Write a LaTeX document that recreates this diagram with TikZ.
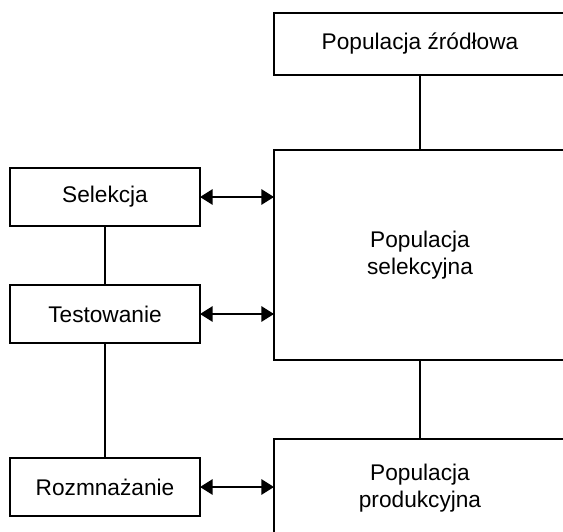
\documentclass[tikz,border=0pt]{standalone}
\usepackage{fontspec}
\setmainfont{Liberation Sans}
\usetikzlibrary{arrows.meta}
\begin{document}
\begin{tikzpicture}[x=0.75pt,y=-0.75pt,
  box/.style={draw,line width=1.6pt,inner sep=0pt,outer sep=0pt,align=center,
    font=\fontsize{17}{20}\selectfont},
  sidebox/.style={box,minimum width=142.5pt,minimum height=43.5pt},
  popbox/.style={box,minimum width=219pt},
  link/.style={line width=1pt},
  twoway/.style={line width=1.5pt,{Triangle[length=9.5pt,width=11.5pt]}-{Triangle[length=9.5pt,width=11.5pt]}}]
  \clip (0,0) rectangle (563,531);
  \useasboundingbox (0,0) rectangle (563,531);
  % population boxes (right column, running off the page edge)
  \node[popbox,minimum height=46.5pt] (src) at (420,44) {Populacja źródłowa};
  \node[popbox,minimum height=157.5pt] (sel) at (420,255) {Populacja\\selekcyjna};
  \node[popbox,minimum height=73.5pt] (prod) at (420,488) {Populacja\\produkcyjna};
  % breeding steps (left column)
  \node[sidebox] (s) at (105,197) {Selekcja};
  \node[sidebox] (t) at (105,314) {Testowanie};
  \node[sidebox] (r) at (105,487) {Rozmnażanie};
  % plain links
  \draw[link] (src.south) -- (sel.north);
  \draw[link] (sel.south) -- (prod.north);
  \draw[link] (s.south) -- (t.north);
  \draw[link] (t.south) -- (r.north);
  % two-way exchanges
  \draw[twoway] (s.east) -- (s.east -| sel.west);
  \draw[twoway] (t.east) -- (t.east -| sel.west);
  \draw[twoway] (r.east) -- (r.east -| prod.west);
\end{tikzpicture}
\end{document}
